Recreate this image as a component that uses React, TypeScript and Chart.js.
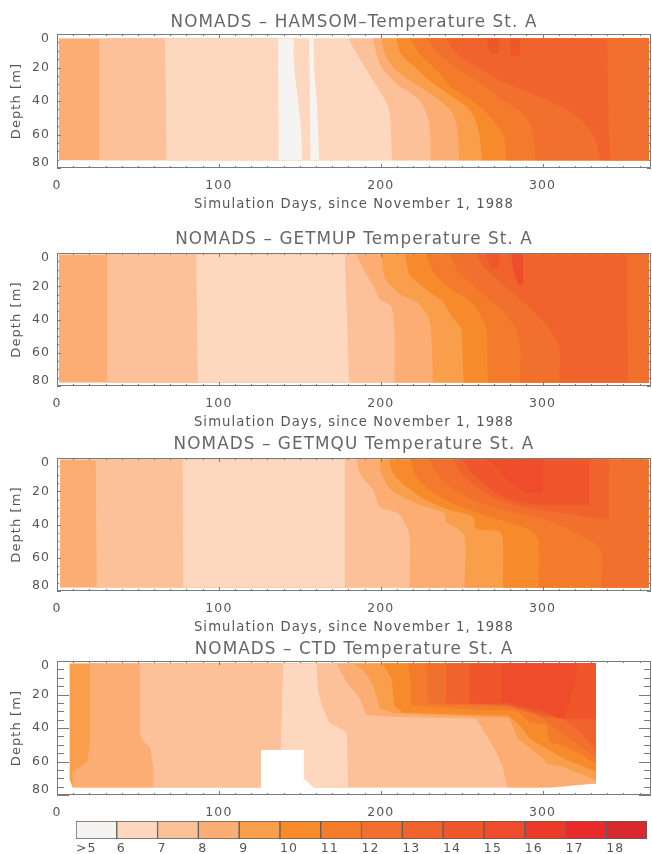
import React, { useEffect, useRef } from "react";
import { Chart, registerables } from "chart.js";

Chart.register(...registerables);

const FONT = "'DejaVu Sans'";
const TEXT = "#565656";
const FRAME = "#777b80";
const TITLE_SIZE = 16.8;

const levelLabels = [">5", "6", "7", "8", "9", "10", "11", "12", "13", "14", "15", "16", "17", "18"];
const levelValues = [5, 6, 7, 8, 9, 10, 11, 12, 13, 14, 15, 16, 17, 18];
const levelColors: Record<number, string> = {
  0: "#ffffff",
  5: "#f6f4f0",
  6: "#fdd8bf",
  7: "#fcc198",
  8: "#fbad74",
  9: "#f99e4b",
  10: "#f78a2b",
  11: "#f47a2c",
  12: "#f2702e",
  13: "#f1632d",
  14: "#ef562c",
  15: "#ee4c2b",
  16: "#ec3a29",
  17: "#e92a2b",
  18: "#d8292e",
};

const dayTicks = [0, 100, 200, 300];
const depthTickLabels = ["0", "20", "40", "60", "80"];
const depthLabelAt = [3, 20, 40, 60, 77];

type P = [number, number]; // [day, depth]

// HAMSOM
const h8: P[] = [[1.2, 2.5], [1.2, 75.5]];
const h7a: P[] = [[26, 2.5], [26, 75.5]];
const h6a: P[] = [[66.7, 2.5], [67.7, 75.5]];
const h5a: P[] = [[136.7, 2.5], [137, 75.5]];
const h6b: P[] = [[146.3, 2.5], [146.3, 17], [149, 40], [151, 60], [151.3, 75.5]];
const h5b: P[] = [[155.8, 2.5], [156.7, 75.5]];
const h6c: P[] = [[158.6, 2.5], [158.8, 20], [160.5, 40], [162, 75.5]];
const h7b: P[] = [[180, 2.5], [183, 8], [190, 19.5], [199, 33.5], [204.5, 43.5], [206, 52], [207, 75.5]];
const h8b: P[] = [[195.3, 2.5], [196.3, 8], [200.4, 19.5], [209.7, 29.5], [224, 39.5], [229, 49.5], [230.6, 59.5], [230.9, 75.5]];
const h9: P[] = [[200.4, 2.5], [203.5, 14], [211.7, 23.5], [224, 31.5], [236.4, 39.5], [244.6, 47.5], [247.7, 59.5], [248.4, 75.5]];
const h10: P[] = [[209.7, 2.5], [212.7, 12], [223, 21.5], [232.3, 29.5], [244.6, 37.5], [255, 45.5], [260, 55.5], [262.8, 75.5]];
const h11: P[] = [[217.9, 2.5], [225, 13], [234.4, 21.5], [243.6, 31.5], [259, 41.5], [271.4, 53.5], [276.5, 63.5], [277.6, 75.5]];
const h12: P[] = [[228, 2.5], [234.4, 10], [245.7, 19.5], [259, 27.5], [275.5, 39.5], [289.9, 49.5], [294.4, 61.5], [295.7, 75.5]];
const h13: P[] = [[240.5, 2.5], [245.7, 10.5], [259, 19.5], [277.6, 29.5], [298, 37.5], [318.7, 47.5], [331, 59.5], [336, 75.5]];
const h14a: P[] = [[265, 2.5], [268, 12]];
const h14b: P[] = [[279.6, 2.5], [280.6, 13]];
const h12b: P[] = [[340, 2.5], [341, 60], [342, 75.5]];

// GETMUP
const u8: P[] = [[1.2, 0.8], [1.2, 78]];
const u7a: P[] = [[31, 0.8], [31, 78]];
const u6a: P[] = [[86, 0.8], [87, 78]];
const u7b: P[] = [[177.8, 0.8], [179, 33], [180.4, 78]];
const u8b: P[] = [[185, 0.8], [189, 9], [196, 21], [199.4, 28], [206.6, 32], [208.6, 47], [208.6, 78]];
const u9: P[] = [[200.4, 0.8], [202.5, 15.2], [212.7, 25.3], [222, 29.3], [229, 37.3], [231.3, 47.3], [232.3, 78]];
const u10: P[] = [[214.8, 0.8], [217.9, 13.2], [227.2, 21.3], [238.5, 29.3], [244.6, 39.3], [249.8, 45.3], [251.2, 78]];
const u11: P[] = [[228.2, 0.8], [232.3, 11.2], [242.6, 21.3], [257, 30.3], [265.2, 45.3], [266.3, 78]];
const u12: P[] = [[242.6, 0.8], [247.7, 11.2], [259, 21.3], [271.4, 31.3], [282.7, 43.3], [286.2, 55.3], [286.2, 78]];
const u13: P[] = [[259, 0.8], [264.2, 9.2], [273.5, 17.2], [290, 31.3], [304.3, 45.3], [310.5, 57.3], [310.5, 78]];
const u14: P[] = [[265, 0.8], [268, 9]];
const u15: P[] = [[280.7, 0.8], [282, 10], [285, 19]];
const u12b: P[] = [[352, 0.8], [353, 78]];

// GETMQU
const q8: P[] = [[1.9, 0.8], [1.9, 78]];
const q7a: P[] = [[23.9, 0.8], [24.6, 78]];
const q6a: P[] = [[77.6, 0.8], [78, 78]];
const q7b: P[] = [[177.8, 0.8], [177.8, 78]];
const q8b: P[] = [[185, 0.8], [187, 9.2], [195.3, 19.3], [199.4, 29.3], [210.7, 33.3], [215.8, 41.3], [217.9, 47.3], [217.9, 78]];
const q9: P[] = [[199.4, 0.8], [200.4, 9.2], [206.6, 19.3], [222, 27.3], [239.5, 33.3], [240.5, 38.3], [248.8, 43.3], [251.9, 47.3], [251.9, 78]];
const q10: P[] = [[205.5, 0.8], [207.6, 9.2], [215.8, 17.2], [228.2, 25.3], [242.6, 31.3], [257, 35.3], [259, 42.3], [273.5, 44.3], [275.5, 49.3], [275.5, 78]];
const q11: P[] = [[217.9, 0.8], [222, 11.2], [230.2, 19.3], [244.6, 27.3], [261.1, 33.3], [279.6, 39.3], [294, 44.3], [297.7, 51.3], [297.7, 78]];
const q12: P[] = [[230.2, 0.8], [234.4, 9.2], [242.6, 17.2], [257, 25.3], [275.5, 31.3], [302.3, 37.3], [325, 47.3], [336.2, 55.3], [336.2, 78]];
const q13: P[] = [[244.6, 0.8], [249.8, 9.2], [259, 17.2], [273.5, 25.3], [292, 30.3], [312.6, 33.3], [341, 37.3]];
const q14: P[] = [[250.8, 0.8], [255, 7.2], [265.2, 17.2], [279.6, 25.3], [300.2, 28.3], [329, 28.5]];
const q15: P[] = [[265, 0.8], [272, 6], [278, 13], [290, 21]];

// CTD
const c9: P[] = [[7.8, 1.4], [7.8, 70.7], [9.7, 75.6]];
const c8a: P[] = [[20.4, 1.4], [20.4, 48], [18.7, 60.1], [14.2, 63], [9.7, 66], [9.7, 75.6]];
const c7a: P[] = [[51.2, 1.4], [51.2, 44.2], [53.7, 48.2], [57.4, 51.2], [59.5, 64], [59.5, 75.6]];
const c6a: P[] = [[139.7, 1.4], [138.3, 50.2], [138.3, 75.6]];
const c7b: P[] = [[160.3, 1.4], [161.3, 18.3], [164.4, 28.3], [168.5, 37], [177.8, 42], [179.2, 44], [179.8, 75.6]];
const c8b: P[] = [[172.6, 1.4], [178.8, 12.4], [187, 22.3], [191.1, 32.3], [209.7, 33.5], [259, 34.5], [265.2, 44.2], [271.4, 54.2], [275.5, 64.1], [278.6, 75.6]];
const c9b: P[] = [[182.9, 1.4], [190.1, 6.4], [195.3, 14.4], [199.4, 28.3], [208.6, 31.3], [261.1, 33.3], [277.6, 33.9], [279.6, 34.3], [284.8, 46.2], [300.2, 58.1], [302.3, 61.1], [312.6, 63.1], [331, 70.5], [333, 71.3]];
const c10: P[] = [[201.4, 1.4], [206.6, 10.4], [208.6, 27.3], [213.8, 30.7], [261.1, 32.3], [278.6, 32.5], [285.8, 38.2], [292, 46.2], [302.3, 52.2], [312.6, 58.1], [333, 66.1]];
const c11: P[] = [[216.9, 1.4], [218.9, 14.4], [218.9, 26.3], [261.1, 29.3], [283.8, 29.5], [292, 36.2], [302.3, 38.2], [304.3, 48.2], [316.7, 52.2], [333, 61.1]];
const c12: P[] = [[228.2, 1.4], [229.2, 25.3], [279.6, 27.3], [296.1, 32.3], [304.3, 37.3], [318.7, 48.2], [333, 57.1]];
const c13: P[] = [[240.5, 1.4], [240.5, 25.3], [279.6, 26.3], [300.2, 33.3], [312.6, 34.3], [322.9, 42.2], [333, 53.2]];
const c14: P[] = [[254.9, 1.4], [254.9, 25.3], [277.6, 25.9], [300.2, 31.3], [310.5, 34.3]];
const c15: P[] = [[274.5, 1.4], [274.5, 24.3], [300.2, 29.3], [310.5, 34.3]];
const c14b: P[] = [[321.8, 1.4], [319.8, 14.4], [315, 30], [312.6, 34.3]];
const cGap: P[] = [[126, 53], [126, 80]];
const cGapNotch: P[] = [[152.5, 70.5], [154, 71.5], [159, 76], [159, 80]];
const cBottom: P[] = [[333, 73.2], [304, 75.6], [270, 75.6], [8, 75.6], [8, 80]];

type Layer = { level: number; pts: P[]; to: number };
const L = (level: number, pts: P[], to: number): Layer => ({ level, pts, to });

const R = 365.5;
const panels = [
  {
    title: "NOMADS – HAMSOM–Temperature St. A",
    top: 0, titleTop: 14.5, frameTop: 34, frameH: 134, xTitle: true, longTicks: false, smooth: 0.3,
    layers: [
      L(8, h8, R), L(7, h7a, R), L(6, h6a, R), L(5, h5a, R), L(6, h6b, R), L(5, h5b, R), L(6, h6c, R),
      L(7, h7b, R), L(8, h8b, R), L(9, h9, R), L(10, h10, R), L(11, h11, R), L(12, h12, R), L(13, h13, R),
      L(14, h14a, 273), L(14, h14b, 286), L(12, h12b, R),
    ],
  },
  {
    title: "NOMADS – GETMUP Temperature St. A",
    top: 219, titleTop: 12.5, frameTop: 253, frameH: 133, xTitle: true, longTicks: false, smooth: 0.15,
    layers: [
      L(8, u8, R), L(7, u7a, R), L(6, u6a, R), L(7, u7b, R), L(8, u8b, R), L(9, u9, R), L(10, u10, R),
      L(11, u11, R), L(12, u12, R), L(13, u13, R), L(14, u14, 273), L(15, u15, 288), L(12, u12b, R),
    ],
  },
  {
    title: "NOMADS – GETMQU Temperature St. A",
    top: 424, titleTop: 12.5, frameTop: 458, frameH: 133, xTitle: true, longTicks: false, smooth: 0.3,
    layers: [
      L(8, q8, R), L(7, q7a, R), L(6, q6a, R), L(7, q7b, R), L(8, q8b, R), L(9, q9, R), L(10, q10, R),
      L(11, q11, R), L(12, q12, R), L(13, q13, 341), L(14, q14, 329), L(15, q15, 300),
    ],
  },
  {
    title: "NOMADS – CTD Temperature St. A",
    top: 627, titleTop: 14.5, frameTop: 661, frameH: 134, xTitle: false, longTicks: true, smooth: 0,
    layers: [
      L(9, c9, 333), L(8, c8a, 333), L(7, c7a, 333), L(6, c6a, 333), L(7, c7b, 333), L(8, c8b, 333), L(9, c9b, 333),
      L(10, c10, 333), L(11, c11, 333), L(12, c12, 333), L(13, c13, 333), L(14, c14, 333), L(15, c15, 333), L(14, c14b, 333),
      L(0, cGap, 152.5), L(0, cGapNotch, 152.5), L(0, cBottom, 333),
    ],
  },
];

const spacingPlugin = {
  id: "hersheySpacing",
  beforeDraw(chart: any) {
    chart.ctx.letterSpacing = "1.1px";
  },
};

function framePlugin(longTicks: boolean) {
  return {
    id: "idlFrame",
    afterDatasetsDraw(chart: any) {
      const { ctx, chartArea: a, scales } = chart;
      const { x, y } = scales;
      ctx.save();
      ctx.strokeStyle = FRAME;
      ctx.lineWidth = 1;
      ctx.beginPath();
      ctx.rect(a.left + 0.5, a.top + 0.5, a.right - a.left - 1, a.bottom - a.top - 1);
      for (let d = 0; d <= 360; d += 10) {
        const px = Math.round(x.getPixelForValue(d)) + 0.5;
        const len = d % 100 === 0 ? 4 : 2;
        ctx.moveTo(px, a.top);
        ctx.lineTo(px, a.top + len);
        ctx.moveTo(px, a.bottom);
        ctx.lineTo(px, a.bottom - len);
      }
      for (let m = 0; m <= 80; m += 5) {
        const py = Math.round(y.getPixelForValue(m)) + 0.5;
        const major = m % 20 === 0;
        const len = longTicks ? (major ? 12 : 7) : major ? 4 : 2;
        ctx.moveTo(a.left, py);
        ctx.lineTo(a.left + len, py);
        ctx.moveTo(a.right, py);
        ctx.lineTo(a.right - len, py);
      }
      ctx.stroke();
      ctx.restore();
    },
  };
}

function panelConfig(p: (typeof panels)[number]): any {
  return {
    type: "line",
    data: {
      // Chart.js paints the first dataset last, so the layers go in reversed
      datasets: [...p.layers].reverse().map((l) => ({
        label: String(l.level),
        data: l.pts.map(([x, y]) => ({ x, y })),
        borderWidth: 0,
        pointRadius: 0,
        tension: p.smooth,
        backgroundColor: levelColors[l.level],
        fill: { value: l.to },
      })),
    },
    options: {
      animation: false,
      responsive: false,
      indexAxis: "y",
      layout: { padding: { left: 0, right: 1, top: 0, bottom: 0 } },
      plugins: {
        legend: { display: false },
        tooltip: { enabled: false },
        title: {
          display: true,
          text: p.title,
          fullSize: false,
          color: "#666666",
          font: { family: FONT, size: TITLE_SIZE, weight: "normal", lineHeight: 1 },
          padding: { top: p.titleTop, bottom: 34 - TITLE_SIZE - p.titleTop },
        },
      },
      scales: {
        x: {
          type: "linear",
          position: "bottom",
          min: 0,
          max: 367,
          grid: { display: false, drawTicks: false },
          border: { display: false },
          afterBuildTicks: (s: any) => {
            s.ticks = dayTicks.map((value) => ({ value }));
          },
          afterFit: (s: any) => {
            s.height = 45;
          },
          ticks: {
            color: TEXT,
            padding: 10,
            maxRotation: 0,
            autoSkip: false,
            font: { family: FONT, size: 12.5 },
          },
          title: {
            display: p.xTitle,
            text: "Simulation Days, since November 1, 1988",
            color: TEXT,
            padding: { top: 0, bottom: 1 },
            font: { family: FONT, size: 13.2 },
          },
        },
        y: {
          type: "linear",
          position: "left",
          reverse: true,
          min: 0,
          max: 80,
          grid: { display: false, drawTicks: false },
          border: { display: false },
          afterBuildTicks: (s: any) => {
            s.ticks = depthLabelAt.map((value) => ({ value }));
          },
          afterFit: (s: any) => {
            s.width = 57;
          },
          ticks: {
            color: TEXT,
            padding: 7,
            autoSkip: false,
            font: { family: FONT, size: 12.5 },
            callback: (_v: any, i: number) => depthTickLabels[i],
          },
          title: {
            display: true,
            text: "Depth [m]",
            color: TEXT,
            padding: { top: 9, bottom: 0 },
            font: { family: FONT, size: 13 },
          },
        },
      },
    },
    plugins: [spacingPlugin, framePlugin(p.longTicks)],
  };
}

function barConfig(): any {
  return {
    type: "bar",
    data: {
      labels: ["°C"],
      datasets: levelValues.map((v, i) => ({
        label: levelLabels[i],
        data: [[v, v + 1]],
        backgroundColor: levelColors[v],
        borderColor: "#5e5e5e",
        borderWidth: 1,
        borderSkipped: false,
        barPercentage: 1,
        categoryPercentage: 1,
        grouped: false,
      })),
    },
    options: {
      animation: false,
      responsive: false,
      indexAxis: "y",
      layout: { padding: { left: 76, right: 5, top: 6, bottom: 0 } },
      plugins: { legend: { display: false }, tooltip: { enabled: false } },
      scales: {
        y: { display: false },
        x: {
          type: "linear",
          position: "bottom",
          min: 5,
          max: 19,
          grid: { display: false, drawTicks: false },
          border: { display: false },
          afterBuildTicks: (s: any) => {
            s.ticks = levelValues.map((value) => ({ value }));
          },
          afterFit: (s: any) => {
            s.height = 15;
          },
          ticks: {
            color: TEXT,
            padding: 2,
            align: "start",
            maxRotation: 0,
            autoSkip: false,
            font: { family: FONT, size: 12.5 },
            callback: (_v: any, i: number) => levelLabels[i],
          },
        },
      },
    },
    plugins: [spacingPlugin],
  };
}

function ChartCanvas({ top, height, config }: { top: number; height: number; config: () => any }) {
  const ref = useRef<HTMLCanvasElement>(null);
  useEffect(() => {
    const chart = new Chart(ref.current!, config());
    return () => chart.destroy();
  }, []);
  return (
    <canvas
      ref={ref}
      width={652}
      height={height}
      style={{ position: "absolute", left: 0, top, width: 652, height, display: "block" }}
    />
  );
}

export default function App() {
  return (
    <div style={{ position: "absolute", left: 0, top: 0, width: 652, height: 854, background: "#fff", overflow: "hidden" }}>
      {panels.map((p) => (
        <ChartCanvas
          key={p.title}
          top={p.top}
          height={p.frameTop - p.top + p.frameH + 45}
          config={() => panelConfig(p)}
        />
      ))}
      <ChartCanvas top={815} height={39} config={barConfig} />
    </div>
  );
}
